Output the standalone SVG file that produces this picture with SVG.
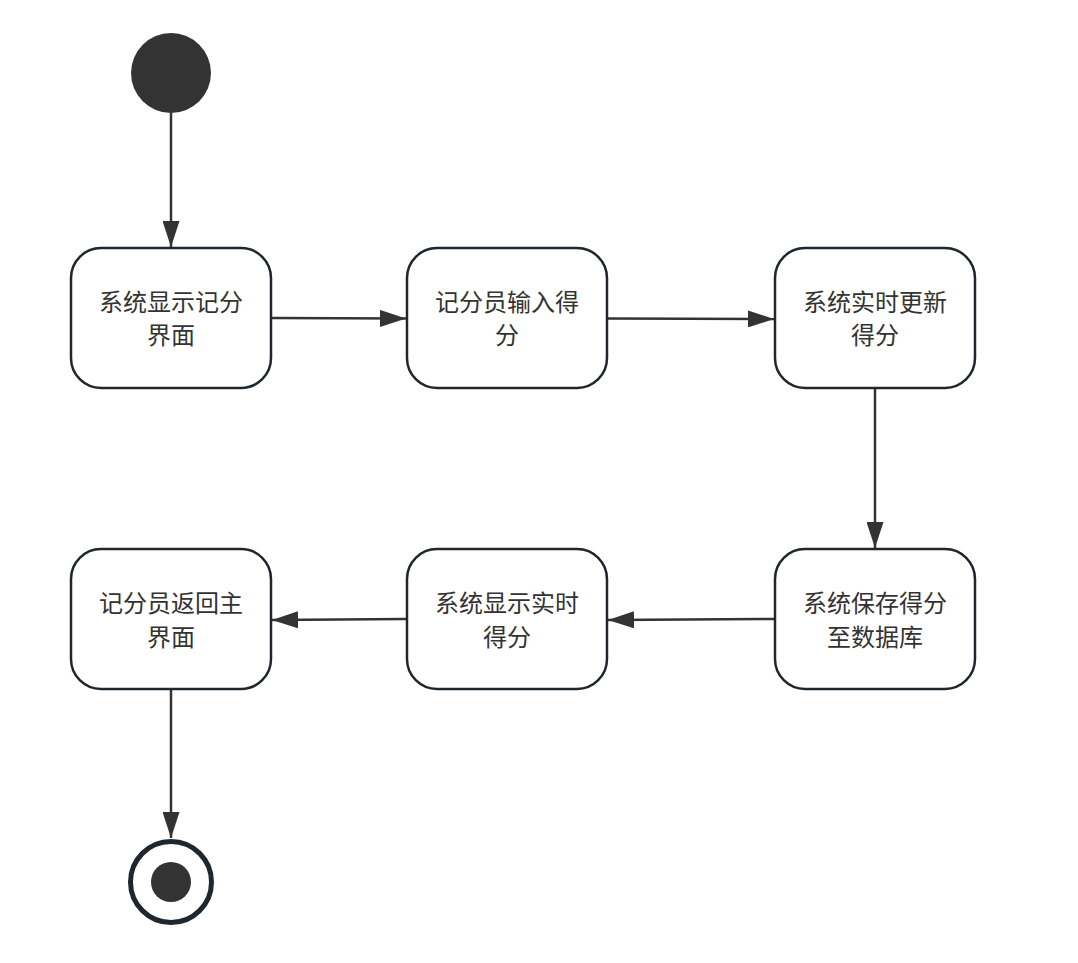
<svg xmlns="http://www.w3.org/2000/svg" width="1078" height="963" viewBox="0 0 1078 963">
<style>
.box{fill:#fff;stroke:#1e272e;stroke-width:2.5}
.lbl{font-family:"Noto Sans CJK SC","Noto Sans",sans-serif;font-size:24px;fill:#333;text-anchor:middle}
.edge{stroke:#333;stroke-width:2.5;fill:none;marker-end:url(#ah)}
</style>
<defs>
<marker id="ah" viewBox="0 0 26 17" refX="26" refY="8.5" markerWidth="26" markerHeight="17" markerUnits="userSpaceOnUse" orient="auto">
<path d="M0,0 L26,8.5 L0,17 Z" fill="#333"/>
</marker>
</defs>
<rect width="1078" height="963" fill="#fff"/>
<g id="connectors">
<line class="edge" x1="171" y1="113" x2="171" y2="247"/>
<line class="edge" x1="272" y1="318" x2="406" y2="318.5"/>
<line class="edge" x1="608" y1="318.5" x2="774" y2="319"/>
<line class="edge" x1="875" y1="389" x2="875" y2="548"/>
<line class="edge" x1="774" y1="619" x2="608" y2="620"/>
<line class="edge" x1="406" y1="619" x2="272" y2="620"/>
<line class="edge" x1="171" y1="690" x2="171" y2="838"/>
</g>
<g id="start"><circle cx="171" cy="73" r="40" fill="#333"/></g>
<g id="n1"><rect class="box" x="71" y="248" width="200" height="140" rx="30"/><text class="lbl" x="171" y="310.5">系统显示记分</text><text class="lbl" x="171" y="344">界面</text></g>
<g id="n2"><rect class="box" x="407" y="248" width="200" height="140" rx="30"/><text class="lbl" x="507" y="310.5">记分员输入得</text><text class="lbl" x="507" y="344">分</text></g>
<g id="n3"><rect class="box" x="775" y="248" width="200" height="140" rx="30"/><text class="lbl" x="875" y="310.5">系统实时更新</text><text class="lbl" x="875" y="344">得分</text></g>
<g id="n4"><rect class="box" x="775" y="549" width="200" height="140" rx="30"/><text class="lbl" x="875" y="612">系统保存得分</text><text class="lbl" x="875" y="645.5">至数据库</text></g>
<g id="n5"><rect class="box" x="407" y="549" width="200" height="140" rx="30"/><text class="lbl" x="507" y="612">系统显示实时</text><text class="lbl" x="507" y="645.5">得分</text></g>
<g id="n6"><rect class="box" x="71" y="549" width="200" height="140" rx="30"/><text class="lbl" x="171" y="612">记分员返回主</text><text class="lbl" x="171" y="645.5">界面</text></g>
<g id="end"><circle cx="171" cy="882" r="40.5" fill="#fff" stroke="#1e272e" stroke-width="5"/><circle cx="171" cy="882" r="20" fill="#333"/></g>
</svg>
